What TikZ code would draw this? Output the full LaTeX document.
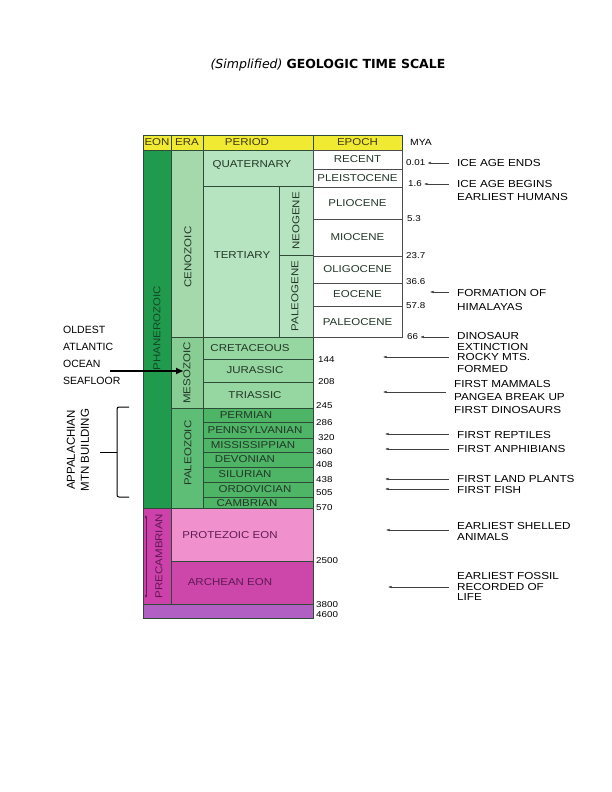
\documentclass[tikz,border=0pt]{standalone}
\usepackage{fontspec}
\setmainfont{Liberation Sans}
\newfontfamily\chartfont[FakeStretch=1.15]{Liberation Sans}
\newfontfamily\titlefont{DejaVu Sans}
\usetikzlibrary{arrows.meta,positioning,calc}

\definecolor{hdrYellow}{RGB}{240,234,50}
\definecolor{phanGreen}{RGB}{32,155,78}
\definecolor{cenoEra}{RGB}{165,216,170}
\definecolor{cenoPer}{RGB}{183,228,192}
\definecolor{mesoEra}{RGB}{135,205,148}
\definecolor{mesoPer}{RGB}{150,214,160}
\definecolor{paleoEra}{RGB}{95,190,118}
\definecolor{paleoPer}{RGB}{78,180,102}
\definecolor{precEon}{RGB}{205,65,170}
\definecolor{protPink}{RGB}{240,145,205}
\definecolor{archMag}{RGB}{205,70,170}
\definecolor{hadPurple}{RGB}{178,95,195}
\definecolor{rule}{RGB}{45,75,55}
\definecolor{cellText}{RGB}{35,55,40}
\definecolor{phanText}{RGB}{20,70,38}
\definecolor{precText}{RGB}{95,25,85}
\definecolor{hdrText}{RGB}{60,55,20}

\begin{document}
\begin{tikzpicture}[
    x=1pt, y=-1pt,
    cell/.style={draw=rule, line width=0.5pt},
    lbl/.style={font=\chartfont\fontsize{10}{12}\selectfont, text=cellText, inner sep=0pt},
    vlbl/.style={lbl, rotate=90},
    hdr/.style={lbl, text=hdrText},
    preclbl/.style={lbl, text=precText},
    mya/.style={font=\chartfont\fontsize{8.5}{10}\selectfont, inner sep=0pt, anchor=west},
    note/.style={font=\chartfont\fontsize{10.2}{#1}\selectfont, align=left,
                 anchor=west, inner sep=0pt},
    note/.default=12,
    ptr/.style={{Latex[length=3.5pt,width=2.6pt]}-, line width=0.45pt,
                draw=black!75, shorten >=8pt},
    bigarr/.style={-{Latex[length=8pt,width=7pt]}, line width=2pt},
]
\useasboundingbox (0,0) rectangle (612,792);

% Title
\node[font=\titlefont\fontsize{12.5}{14}\selectfont] (title) at (328,65)
  {\textit{(Simplified)} \textbf{GEOLOGIC TIME SCALE}};

% Header row
\filldraw[cell, fill=hdrYellow] (143,135) rectangle (171,150);
\filldraw[cell, fill=hdrYellow] (171,135) rectangle (203,150);
\filldraw[cell, fill=hdrYellow] (203,135) rectangle (313,150);
\filldraw[cell, fill=hdrYellow] (313,135) rectangle (402,150);
\node[hdr] (hdrEon) at (157,142.5) {EON};
\node[hdr] (hdrEra) at (187,142.5) {ERA};
\node[hdr] (hdrPeriod) at (247,142.5) {PERIOD};
\node[hdr] (hdrEpoch) at (357.5,142.5) {EPOCH};
\node[mya, font=\chartfont\fontsize{9}{10}\selectfont] (hdrMya) at (410,142.5) {MYA};

% Cenozoic
\filldraw[cell, fill=phanGreen] (143,150) rectangle (171,508);
\filldraw[cell, fill=cenoEra] (171,150) rectangle (203,337);
\filldraw[cell, fill=cenoPer] (203,150) rectangle (313,186);
\filldraw[cell, fill=cenoPer] (203,186) rectangle (279,337);
\filldraw[cell, fill=cenoPer] (279,186) rectangle (313,255);
\filldraw[cell, fill=cenoPer] (279,255) rectangle (313,337);
\foreach \top/\bot in {150/169,169/187,187/219,219/256,256/283,283/306,306/337}
  \filldraw[draw=black!70, line width=0.5pt, fill=white] (313,\top) rectangle (402,\bot);
\node[vlbl, text=phanText] (phanero) at (157,328) {PHANEROZOIC};
\node[vlbl] (ceno) at (188,257) {CENOZOIC};
\node[lbl] (quat) at (252,165) {QUATERNARY};
\node[lbl] (tert) at (242,255) {TERTIARY};
\node[vlbl] (neo) at (296,221) {NEOGENE};
\node[vlbl] (paleog) at (295,296) {PALEOGENE};
\node[lbl] (recent) at (357.5,159.5) {RECENT};
\node[lbl] (pleist) at (357.5,178) {PLEISTOCENE};
\node[lbl] (plio) at (357.5,203) {PLIOCENE};
\node[lbl] (mio) at (357.5,237.5) {MIOCENE};
\node[lbl] (oligo) at (357.5,269.5) {OLIGOCENE};
\node[lbl] (eoc) at (357.5,294.5) {EOCENE};
\node[lbl] (paleoc) at (357.5,322) {PALEOCENE};

% Mesozoic
\filldraw[cell, fill=mesoEra] (171,337) rectangle (203,408);
\filldraw[cell, fill=mesoPer] (203,337) rectangle (313,359);
\filldraw[cell, fill=mesoPer] (203,359) rectangle (313,382);
\filldraw[cell, fill=mesoPer] (203,382) rectangle (313,408);
\node[vlbl] (meso) at (187,373) {MESOZOIC};
\node[lbl] (cret) at (250,348) {CRETACEOUS};
\node[lbl] (jura) at (255,370.5) {JURASSIC};
\node[lbl] (trias) at (255,395) {TRIASSIC};

% Paleozoic
\filldraw[cell, fill=paleoEra] (171,408) rectangle (203,508);
\foreach \top/\bot in {408/422,422/438,438/452,452/467,467/482,482/497,497/508}
  \filldraw[cell, fill=paleoPer] (203,\top) rectangle (313,\bot);
\node[vlbl] (paleoz) at (188,453) {PALEOZOIC};
\node[lbl] (perm) at (246,415) {PERMIAN};
\node[lbl] (penn) at (255,430) {PENNSYLVANIAN};
\node[lbl] (miss) at (253,445) {MISSISSIPPIAN};
\node[lbl] (devon) at (245,459.5) {DEVONIAN};
\node[lbl] (silur) at (245,474.5) {SILURIAN};
\node[lbl] (ordo) at (255,489.5) {ORDOVICIAN};
\node[lbl] (camb) at (247,503) {CAMBRIAN};

% Precambrian
\filldraw[cell, fill=precEon] (143,508) rectangle (171,604);
\filldraw[cell, fill=protPink] (171,508) rectangle (313,561);
\filldraw[cell, fill=archMag] (171,561) rectangle (313,604);
\filldraw[cell, fill=hadPurple] (143,604) rectangle (313,618);
\coordinate (precTop) at (146,515);
\coordinate (precBot) at (146,598);
\draw[{Latex[length=3pt,width=2.5pt]}-{Latex[length=3pt,width=2.5pt]},
      line width=0.4pt, draw=precText] (precTop) -- (precBot);
\node[vlbl, text=precText] (precamb) at (159,556) {PRECAMBRIAN};
\node[preclbl] (protez) at (230,535) {PROTEZOIC EON};
\node[preclbl] (archean) at (230,582) {ARCHEAN EON};

% Ages (million years ago)
\node[mya] (n001) at (406,163) {0.01};
\node[mya] (n16) at (408,184) {1.6};
\node[mya] (n53) at (407,219) {5.3};
\node[mya] (n237) at (406,256) {23.7};
\node[mya] (n366) at (406,282) {36.6};
\node[mya] (n578) at (406,306) {57.8};
\node[mya] (n66) at (407,337) {66};
\node[mya] (n144) at (318,360) {144};
\node[mya] (n208) at (318,382) {208};
\node[mya] (n245) at (316,406) {245};
\node[mya] (n286) at (316,423) {286};
\node[mya] (n320) at (318,438) {320};
\node[mya] (n360) at (316,452) {360};
\node[mya] (n408) at (316,465) {408};
\node[mya] (n438) at (316,480) {438};
\node[mya] (n505) at (316,493) {505};
\node[mya] (n570) at (316,508) {570};
\node[mya] (n2500) at (316,561) {2500};
\node[mya] (n3800) at (316,605) {3800};
\node[mya] (n4600) at (316,615) {4600};

% Events
\node[note] (iceEnds) at (457,163) {ICE AGE ENDS};
\node[note=13] (iceBegins) at (457,190.5) {ICE AGE BEGINS\\EARLIEST HUMANS};
\node[note=14] (himalayas) at (457,300) {FORMATION OF\\HIMALAYAS};
\node[note=11] (dino) at (457,341.5) {DINOSAUR\\EXTINCTION};
\node[note=12] (rocky) at (457,363) {ROCKY MTS.\\FORMED};
\node[note=13] (mammals) at (454,397) {FIRST MAMMALS\\PANGEA BREAK UP\\FIRST DINOSAURS};
\node[note=14] (reptiles) at (457,441.5) {FIRST REPTILES\\FIRST ANPHIBIANS};
\node[note=11] (plants) at (457,484.5) {FIRST LAND PLANTS\\FIRST FISH};
\node[note=11] (shelled) at (457,531.5) {EARLIEST SHELLED\\ANIMALS};
\node[note=10.5] (fossil) at (457,586.5) {EARLIEST FOSSIL\\RECORDED OF\\LIFE};

\coordinate (tipHim) at (430,292);
\coordinate (tipRocky) at (383,357);
\coordinate (tipMammals) at (383,392);
\coordinate (tipReptiles) at (385,434);
\coordinate (tipAmph) at (385,449);
\coordinate (tipPlants) at (385,479);
\coordinate (tipFish) at (385,489);
\coordinate (tipShelled) at (386,530);
\coordinate (tipFossil) at (388,587);

\draw[ptr, shorten <=2pt] (n001.east) -- (iceEnds.west);
\draw[ptr, shorten <=2pt] (n16.east) -- (n16.east -| iceBegins.west);
\draw[ptr] (tipHim) -- (tipHim -| himalayas.west);
\draw[ptr, shorten <=2pt] (n66.east) -- (n66.east -| dino.west);
\draw[ptr] (tipRocky) -- (tipRocky -| rocky.west);
\draw[ptr] (tipMammals) -- (tipMammals -| mammals.west);
\draw[ptr] (tipReptiles) -- (tipReptiles -| reptiles.west);
\draw[ptr] (tipAmph) -- (tipAmph -| reptiles.west);
\draw[ptr] (tipPlants) -- (tipPlants -| plants.west);
\draw[ptr] (tipFish) -- (tipFish -| plants.west);
\draw[ptr] (tipShelled) -- (tipShelled -| shelled.west);
\draw[ptr] (tipFossil) -- (tipFossil -| fossil.west);

% Left notes
\node[font=\fontsize{10.5}{17}\selectfont, align=left, anchor=west, inner sep=0pt]
  (oldest) at (63,355) {OLDEST\\ATLANTIC\\OCEAN\\SEAFLOOR};
\coordinate (seafloorTail) at (110,371);
\coordinate (seafloorTip) at (184,371);
\draw[bigarr] (seafloorTail) -- (seafloorTip);

\node[font=\fontsize{11.5}{14}\selectfont, align=center, rotate=90, inner sep=0pt]
  (appal) at (78,450) {APPALACHIAN\\MTN BUILDING};
\coordinate (braceTop) at (129,407);
\coordinate (braceBot) at (129,497);
\coordinate (braceMid) at (117,452);
\coordinate (braceTick) at (100,452);
\draw[line width=1pt, rounded corners=2pt]
  (braceTop) -- (braceTop -| braceMid) -- (braceBot -| braceMid) -- (braceBot);
\draw[line width=1pt] (braceTick) -- (braceMid);

\end{tikzpicture}
\end{document}
